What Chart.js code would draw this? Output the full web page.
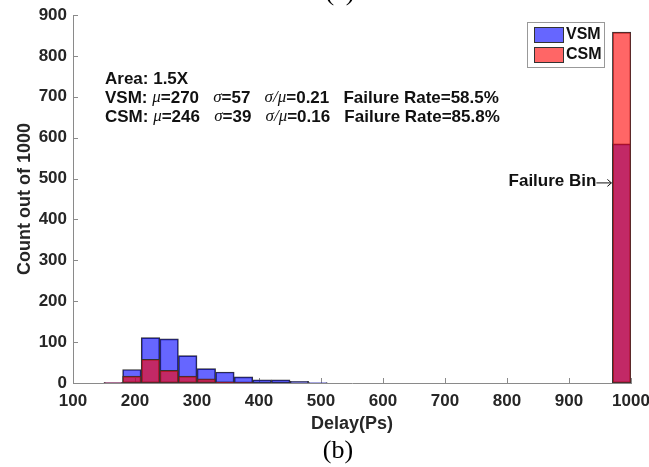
<!DOCTYPE html>
<html>
<head>
<meta charset="utf-8">
<script src="https://cdn.jsdelivr.net/npm/chart.js@4.4.1/dist/chart.umd.min.js"></script>
<style>
  html, body { margin: 0; padding: 0; background: #fff; }
  #wrap { width: 649px; height: 467px; position: relative; }
</style>
</head>
<body>
<div id="wrap"><canvas id="hist"></canvas></div>
<script>
// bin centres (ps), 30 ps wide bins; last bin is the failure bin
const binCenters = [165, 195, 225, 255, 285, 315, 345, 375, 405, 435, 465, 495, 985];
const vsmCounts = [1, 33, 111, 108, 67, 35, 27, 15, 8, 8, 4, 1, 585];
const csmCounts = [1, 17, 58, 31, 17, 10, 3, 1, 0, 0, 0, 0, 858];
const xTicks = [100, 200, 300, 400, 500, 600, 700, 800, 900, 1000];
const yTicks = [0, 100, 200, 300, 400, 500, 600, 700, 800, 900];
const seriesNames = ['VSM', 'CSM'];

const textColor = '#262626';
const axisColor = '#8a8a8a';
const sans = 'Arial, "Liberation Sans", sans-serif';
const boldFont = 'bold 17px ' + sans;
const greekFont = 'italic 17px "Liberation Serif", serif';

function drawRich(ctx, x, y, parts) {
  parts.forEach(([txt, font]) => {
    ctx.font = font;
    ctx.fillText(txt, x, y);
    x += ctx.measureText(txt).width;
  });
}

function statLine(name, mu, sd, cv, fr) {
  return [
    [name + ': ', boldFont], ['μ', greekFont], ['=' + mu + '   ', boldFont],
    ['σ', greekFont], ['=' + sd + '   ', boldFont],
    ['σ/μ', greekFont], ['=' + cv + '   ', boldFont],
    ['Failure Rate=' + fr, boldFont]
  ];
}

const decor = {
  id: 'decor',
  beforeDatasetsDraw(chart) {
    const { ctx, chartArea: a, scales: { x, y } } = chart;
    ctx.save();
    ctx.strokeStyle = axisColor;
    ctx.lineWidth = 1;
    ctx.beginPath();
    xTicks.forEach(v => {
      const px = Math.round(x.getPixelForValue(v)) + 0.5;
      ctx.moveTo(px, a.bottom);
      ctx.lineTo(px, a.bottom - 5);
    });
    yTicks.forEach(v => {
      const py = Math.round(y.getPixelForValue(v)) + 0.5;
      ctx.moveTo(a.left, py);
      ctx.lineTo(a.left + 5, py);
    });
    ctx.stroke();
    ctx.restore();
  },
  afterDraw(chart) {
    const { ctx, scales: { x, y } } = chart;
    ctx.save();
    ctx.fillStyle = '#111';
    ctx.textBaseline = 'middle';
    drawRich(ctx, 105, 79, [['Area: 1.5X', boldFont]]);
    drawRich(ctx, 105, 98, statLine('VSM', 270, 57, '0.21', '58.5%'));
    drawRich(ctx, 105, 117, statLine('CSM', 246, 39, '0.16', '85.8%'));

    // failure bin label with a long arrow pointing at the bar
    const fx = x.getPixelForValue(970) - 1;
    const fy = y.getPixelForValue(493);
    ctx.font = boldFont;
    ctx.textAlign = 'right';
    ctx.fillText('Failure Bin', fx - 15, fy);
    ctx.strokeStyle = '#111';
    ctx.lineWidth = 1;
    ctx.beginPath();
    ctx.moveTo(fx - 15, fy + 1.5);
    ctx.lineTo(fx, fy + 1.5);
    ctx.moveTo(fx - 4, fy - 2);
    ctx.lineTo(fx, fy + 1.5);
    ctx.lineTo(fx - 4, fy + 5);
    ctx.stroke();

    // legend box
    ctx.textAlign = 'left';
    ctx.fillStyle = '#fff';
    ctx.fillRect(527, 22, 77, 45);
    ctx.strokeStyle = '#999';
    ctx.strokeRect(527.5, 22.5, 77, 45);
    chart.data.datasets.forEach((ds, i) => {
      const ty = 27 + i * 20;
      ctx.fillStyle = ds.backgroundColor;
      ctx.fillRect(534, ty, 29, 15);
      ctx.strokeStyle = '#333';
      ctx.strokeRect(534.5, ty + 0.5, 29, 15);
      ctx.fillStyle = '#111';
      ctx.font = 'bold 16px ' + sans;
      ctx.fillText(ds.label, 566, ty + 8);
    });

    // subfigure captions
    ctx.font = '26px "Liberation Serif", "Times New Roman", serif';
    ctx.textAlign = 'center';
    ctx.textBaseline = 'alphabetic';
    ctx.fillStyle = '#000';
    ctx.fillText('(a)', 340, 0);
    ctx.fillText('(b)', 338, 458);
    ctx.restore();
  }
};

const tickFont = { family: sans, size: 17, weight: 'bold' };

new Chart(document.getElementById('hist'), {
  type: 'bar',
  data: {
    datasets: [
      {
        label: seriesNames[0],
        data: binCenters.map((c, i) => ({ x: c, y: vsmCounts[i] })),
        backgroundColor: 'rgba(0, 0, 255, 0.6)',
        borderColor: '#333',
        borderWidth: 1,
        borderSkipped: false,
        order: 2
      },
      {
        label: seriesNames[1],
        data: binCenters.map((c, i) => ({ x: c, y: csmCounts[i] })),
        backgroundColor: 'rgba(255, 0, 0, 0.6)',
        borderColor: '#333',
        borderWidth: 1,
        borderSkipped: false,
        order: 1
      }
    ]
  },
  options: {
    responsive: true,
    maintainAspectRatio: false,
    animation: false,
    grouped: false,
    barPercentage: 1,
    categoryPercentage: 1,
    layout: { padding: { left: 0, top: 15, right: 18, bottom: 32 } },
    plugins: {
      legend: { display: false },
      tooltip: { enabled: false }
    },
    scales: {
      x: {
        type: 'linear',
        min: 100,
        max: 1000,
        offset: false,
        afterFit: s => { s.height = 52; s.paddingLeft = 0; s.paddingRight = 0; },
        afterBuildTicks: s => { s.ticks = xTicks.map(v => ({ value: v })); },
        grid: { display: false, drawTicks: false },
        border: { display: true, color: axisColor },
        ticks: { color: textColor, font: tickFont, padding: 8, maxRotation: 0, callback: v => String(v) },
        title: {
          display: true, text: 'Delay(Ps)', color: textColor,
          font: { family: sans, size: 18, weight: 'bold' },
          padding: { top: 0, bottom: 0 }
        }
      },
      y: {
        min: 0,
        max: 900,
        afterFit: s => { s.width = 73; s.paddingTop = 0; s.paddingBottom = 0; },
        afterBuildTicks: s => { s.ticks = yTicks.map(v => ({ value: v })); },
        grid: { display: false, drawTicks: false },
        border: { display: true, color: axisColor },
        ticks: { color: textColor, font: tickFont, padding: 6, callback: v => String(v) },
        title: {
          display: true, text: 'Count out of 1000', color: textColor,
          font: { family: sans, size: 18, weight: 'bold' },
          padding: { top: 14, bottom: 0 }
        }
      }
    }
  },
  plugins: [decor]
});
</script>
</body>
</html>
